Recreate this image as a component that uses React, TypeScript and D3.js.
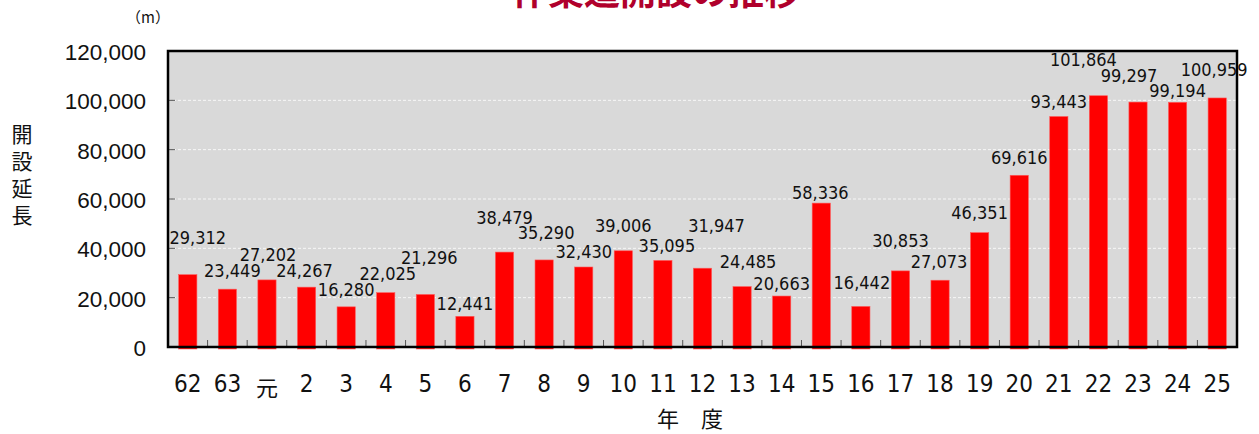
import React from 'react';
import * as d3 from 'd3';

// 年度 (昭和62年度〜平成25年度)
const years = ['62', '63', '元', '2', '3', '4', '5', '6', '7', '8', '9', '10', '11', '12', '13',
  '14', '15', '16', '17', '18', '19', '20', '21', '22', '23', '24', '25'];

// 開設延長 (m)
const lengths = [29312, 23449, 27202, 24267, 16280, 22025, 21296, 12441, 38479, 35290, 32430,
  39006, 35095, 31947, 24485, 20663, 58336, 16442, 30853, 27073, 46351, 69616, 93443, 101864,
  99297, 99194, 100959];

const yTicks = [0, 20000, 40000, 60000, 80000, 100000, 120000];

// data labels were hand-placed in the original; nudge [dx, dy from bar top]
const labelNudge: Array<[number, number]> = [
  [10, -37], [5, -19], [1, -25], [-2, -17], [0, -17], [2, -19], [4, -37], [0, -13], [0, -35],
  [2, -27], [0, -15], [0, -25], [4, -15], [14, -43], [6, -25], [0, -13], [-1, -11], [1, -24],
  [0, -30], [-1, -19], [0, -20], [0, -18], [0, -15], [-15, -36], [-9, -27], [0, -12], [-3, -28],
];

const W = 1259;
const H = 434;
const margin = { top: 51, right: 22, bottom: 87, left: 168 };

const App: React.FC = () => {
  const x = d3.scaleBand<string>()
    .domain(years)
    .range([margin.left, W - margin.right])
    .paddingInner(0.54)
    .paddingOuter(0.27);

  const y = d3.scaleLinear()
    .domain([0, 120000])
    .range([H - margin.bottom, margin.top]);

  const step = x.step();
  const fmt = d3.format(',');
  const jp = "'Noto Sans CJK JP', sans-serif";
  const narrow = "'Liberation Sans Narrow', 'DejaVu Sans Condensed', 'Liberation Sans', sans-serif";
  const cond = "'DejaVu Sans Condensed', 'DejaVu Sans', sans-serif";

  const x0 = margin.left;
  const x1 = W - margin.right;
  const y0 = y(0);
  const yTop = y(120000);

  return (
    <svg width={W} height={H} style={{ position: 'absolute', left: 0, top: 0, background: '#fff' }}>
      {/* title, cut off at the top edge */}
      <text x={656} y={5} textAnchor="middle" fontFamily={jp} fontWeight={700} fontSize={36}
        fill="#b0002c">作業道開設の推移</text>

      {/* plot area */}
      <rect x={x0} y={yTop} width={x1 - x0} height={y0 - yTop} fill="#d9d9d9" />

      {yTicks.filter(t => t > 0 && t < 120000).map(t => (
        <line key={'g' + t} x1={x0} x2={x1} y1={y(t)} y2={y(t)} stroke="#fff"
          strokeWidth={0.8} strokeDasharray="3,2" />
      ))}

      {yTicks.filter(t => t > 0 && t < 120000).map(t => (
        <line key={'t' + t} x1={x0} x2={x0 + 7} y1={y(t)} y2={y(t)} stroke="#555" strokeWidth={1} />
      ))}

      {years.slice(1).map(c => {
        const bx = (x(c) as number) - (step - x.bandwidth()) / 2;
        return <line key={'xt' + c} x1={bx} x2={bx} y1={y0} y2={y0 - 7} stroke="#555" strokeWidth={1} />;
      })}

      {lengths.map((v, i) => (
        <rect key={'b' + i} x={x(years[i])} y={y(v)} width={x.bandwidth()} height={y0 - y(v) + 2}
          fill="#ff0000" stroke="#ff5a5a" strokeWidth={0.6} />
      ))}

      {/* frame */}
      <rect x={x0} y={yTop} width={x1 - x0} height={y0 - yTop} fill="none" stroke="#000" strokeWidth={2.5} />

      {/* value labels */}
      {lengths.map((v, i) => (
        <text key={'l' + i}
          x={(x(years[i]) as number) + x.bandwidth() / 2 + labelNudge[i][0]}
          y={y(v) + labelNudge[i][1]}
          dy="0.36em" textAnchor="middle"
          fontFamily={cond} fontStretch="condensed" fontSize={18} fill="#111">
          {fmt(v)}
        </text>
      ))}

      {/* y axis labels */}
      {yTicks.map(t => (
        <text key={'yl' + t} x={146} y={y(t) + 1} dy="0.36em" textAnchor="end"
          fontFamily="'Liberation Sans', Arial, sans-serif" fontSize={22.5} fill="#111">
          {fmt(t)}
        </text>
      ))}

      {/* x axis labels */}
      {years.map(c => (
        <text key={'xl' + c} x={(x(c) as number) + x.bandwidth() / 2} y={c === '元' ? 396 : 392}
          textAnchor="middle" fontFamily={c === '元' ? jp : narrow}
          fontSize={c === '元' ? 22 : 24} fill="#111">
          {c}
        </text>
      ))}

      {/* axis titles */}
      <text x={690} y={427} textAnchor="middle" fontFamily={jp} fontSize={22} fill="#111">年　度</text>
      {['開', '設', '延', '長'].map((ch, i) => (
        <text key={'yt' + i} x={22} y={134 + i * 27} dy="0.36em" textAnchor="middle"
          fontFamily={jp} fontSize={21} fill="#111">{ch}</text>
      ))}
      <text x={148} y={23} textAnchor="middle" fontFamily={jp} fontSize={15} fill="#111">（m）</text>
    </svg>
  );
};

export default App;
